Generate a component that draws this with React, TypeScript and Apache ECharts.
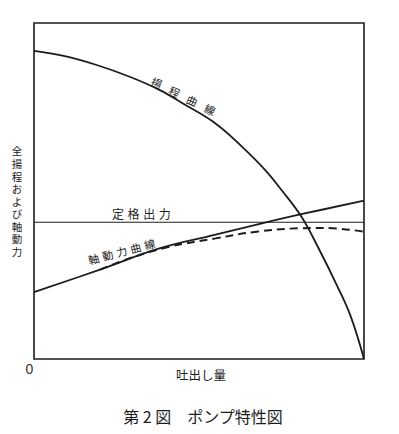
import React, { useEffect, useRef } from "react";
import * as echarts from "echarts";

// Discharge (x, 0..100) vs total head / shaft power (y, 0..100), arbitrary units
const headX = [0, 9, 19, 29, 38, 45, 55, 63, 70, 75, 81, 86, 92, 96, 100];
const headY = [91.7, 90.2, 87.5, 84.0, 80.1, 76.1, 70.1, 63.2, 56.3, 50.3, 42.4, 33.4, 21.5, 12.6, 0];

const powerX = [0, 20, 38, 55, 70, 81, 100];
const powerY = [19.9, 26.6, 32.9, 37.0, 40.6, 43.1, 47.1];

const powerDashX = [20, 30, 41, 55, 67.5, 80, 88, 100];
const powerDashY = [26.6, 30.3, 33.4, 35.9, 37.9, 38.9, 39.0, 37.9];

const ratedX = [0, 100];
const ratedY = [40.7, 40.7];

const yAxisLabel = "全揚程および軸動力";
const xAxisLabel = "吐出し量";
const originLabel = "0";
const headLabel = "揚程曲線";
const powerLabel = "軸動力曲線";
const ratedLabel = "定格出力";
const title = "第 2 図　ポンプ特性図";

const FONT = '"Noto Sans CJK JP", "Noto Sans", sans-serif';
const INK = "#1c1c1c";

const zip = (xs: number[], ys: number[]) => xs.map((x, i) => [x, ys[i]]);

function charsAlong(
  text: string,
  x0: number,
  y0: number,
  dx: number,
  dy: number,
  rot: number,
  size: number
) {
  return Array.from(text).map((ch, i) => ({
    type: "text",
    x: x0 + dx * i,
    y: y0 + dy * i,
    rotation: rot,
    style: {
      text: ch,
      fontSize: size,
      fontFamily: FONT,
      fill: INK,
      align: "center",
      verticalAlign: "middle",
    },
  }));
}

export default function App() {
  const ref = useRef<HTMLDivElement>(null);
  useEffect(() => {
    if (!ref.current) return;
    const chart = echarts.init(ref.current, undefined, { renderer: "svg" });
    chart.setOption({
      animation: false,
      backgroundColor: "#ffffff",
      grid: {
        left: 34,
        right: 35,
        top: 23,
        bottom: 75,
        show: true,
        borderColor: INK,
        borderWidth: 1.6,
        backgroundColor: "transparent",
      },
      xAxis: {
        type: "value",
        min: 0,
        max: 100,
        axisLine: { show: false },
        axisTick: { show: false },
        axisLabel: { show: false },
        splitLine: { show: false },
      },
      yAxis: {
        type: "value",
        min: 0,
        max: 100,
        axisLine: { show: false },
        axisTick: { show: false },
        axisLabel: { show: false },
        splitLine: { show: false },
      },
      series: [
        {
          type: "line",
          data: zip(headX, headY),
          smooth: 0.4,
          showSymbol: false,
          lineStyle: { color: INK, width: 1.8 },
        },
        {
          type: "line",
          data: zip(ratedX, ratedY),
          showSymbol: false,
          lineStyle: { color: INK, width: 1.1 },
        },
        {
          type: "line",
          data: zip(powerX, powerY),
          smooth: 0.4,
          showSymbol: false,
          lineStyle: { color: INK, width: 1.8 },
        },
        {
          type: "line",
          data: zip(powerDashX, powerDashY),
          smooth: 0.4,
          showSymbol: false,
          lineStyle: { color: INK, width: 2, type: [8, 5] },
        },
      ],
      graphic: [
        {
          type: "text",
          x: 17,
          y: 201.2,
          style: {
            text: Array.from(yAxisLabel).join("\n"),
            fontSize: 10.5,
            lineHeight: 12.6,
            fontFamily: FONT,
            fill: INK,
            align: "center",
            verticalAlign: "middle",
          },
        },
        ...charsAlong(headLabel, 156.7, 82.5, 17.8, 8.9, -0.42, 11),
        ...charsAlong(ratedLabel, 118, 213.3, 15.6, 0, 0, 12),
        ...charsAlong(powerLabel, 93.5, 258.5, 14, -3.7, 0.26, 11),
        {
          type: "text",
          x: 29.5,
          y: 369,
          style: {
            text: originLabel,
            fontSize: 14,
            fontFamily: '"Liberation Sans", sans-serif',
            fill: "#333",
            align: "center",
            verticalAlign: "middle",
          },
        },
        {
          type: "text",
          x: 201,
          y: 374,
          style: {
            text: xAxisLabel,
            fontSize: 12.5,
            fontFamily: FONT,
            fill: INK,
            align: "center",
            verticalAlign: "middle",
          },
        },
        {
          type: "text",
          x: 203,
          y: 416,
          style: {
            text: title,
            fontSize: 16,
            fontFamily: FONT,
            fill: INK,
            align: "center",
            verticalAlign: "middle",
          },
        },
      ],
    });
    return () => chart.dispose();
  }, []);
  return (
    <div
      ref={ref}
      style={{ position: "fixed", left: 0, top: 0, width: 399, height: 434 }}
    />
  );
}
